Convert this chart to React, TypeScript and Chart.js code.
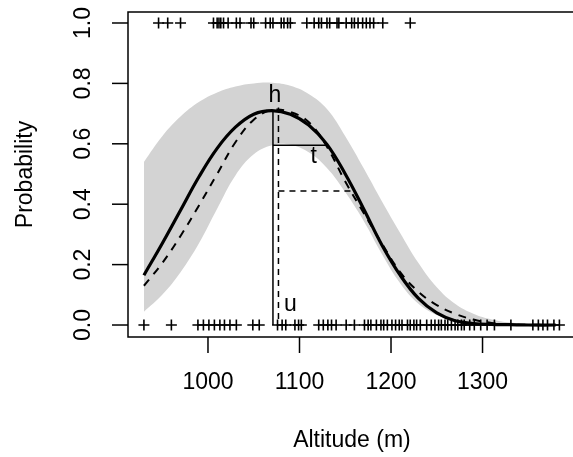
import React, { useEffect, useRef } from "react";
import { Chart, registerables } from "chart.js";

Chart.register(...registerables);

// Altitude grid for the curves (m)
const curveAlt = [930, 950, 970, 990, 1010, 1030, 1050, 1070, 1090, 1110, 1130, 1150, 1170, 1190, 1210, 1230, 1250, 1270, 1290, 1310, 1330, 1350, 1380];
// Fitted probability (solid curve)
const fittedP = [0.165, 0.27, 0.38, 0.49, 0.585, 0.655, 0.698, 0.71, 0.698, 0.662, 0.598, 0.5, 0.385, 0.265, 0.165, 0.088, 0.04, 0.014, 0.005, 0.002, 0.001, 0, 0];
// Alternative model (dashed curve)
const dashedP = [0.13, 0.205, 0.295, 0.395, 0.5, 0.605, 0.68, 0.712, 0.705, 0.672, 0.59, 0.475, 0.372, 0.27, 0.175, 0.11, 0.066, 0.037, 0.018, 0.007, 0.002, 0.001, 0];
// Confidence band
const upperP = [0.54, 0.625, 0.69, 0.738, 0.77, 0.79, 0.8, 0.802, 0.792, 0.765, 0.715, 0.625, 0.52, 0.41, 0.305, 0.205, 0.125, 0.07, 0.037, 0.018, 0.008, 0.004, 0.001];
const lowerP = [0.044, 0.1, 0.175, 0.27, 0.385, 0.495, 0.565, 0.595, 0.597, 0.572, 0.52, 0.44, 0.345, 0.235, 0.138, 0.07, 0.033, 0.013, 0.005, 0.001, 0, 0, 0];

// Observations (rug of "+")
const presenceAlt = [946, 956, 970, 1006, 1010, 1012, 1014, 1017, 1022, 1031, 1035, 1047, 1050, 1063, 1068, 1071, 1080, 1083, 1087, 1090, 1108, 1116, 1121, 1124, 1130, 1133, 1141, 1143, 1151, 1157, 1160, 1164, 1169, 1173, 1177, 1181, 1191, 1221];
const absenceAlt = [930, 960, 989, 995, 1001, 1007, 1013, 1018, 1024, 1031, 1049, 1056, 1076, 1081, 1085, 1095, 1099, 1102, 1121, 1126, 1131, 1135, 1140, 1151, 1160, 1171, 1175, 1178, 1184, 1189, 1192, 1196, 1201, 1205, 1209, 1212, 1218, 1221, 1225, 1228, 1232, 1239, 1244, 1248, 1252, 1255, 1259, 1262, 1266, 1270, 1273, 1277, 1280, 1286, 1291, 1298, 1305, 1313, 1331, 1355, 1361, 1366, 1371, 1378, 1384];

// Annotation values
const hAlt = 1071;
const hP = 0.71;
const tAlt = 1130;
const tP = 0.595;
const dashPeakAlt = 1077;
const dashPeakP = 0.72;
const dashEndAlt = 1157;
const dashHalfP = 0.444;
const labelTexts = ["h", "t", "u"];
const labelAlt = [1073, 1115.5, 1090];
const labelP = [0.76, 0.556, 0.066];

const xTicks = [1000, 1100, 1200, 1300];
const yTicks = [0, 0.2, 0.4, 0.6, 0.8, 1.0];
const xTitle = "Altitude (m)";
const yTitle = "Probability";

const FONT = '"Liberation Sans", Arial, Helvetica, sans-serif';

const pts = (xs: number[], ys: number[]) => xs.map((v, i) => ({ x: v, y: ys[i] }));

const axesPlugin = {
  id: "rAxes",
  afterDraw(chart: any) {
    const { ctx, chartArea: a, scales } = chart;
    const x = scales.x;
    const y = scales.y;
    ctx.save();
    ctx.strokeStyle = "#000";
    ctx.fillStyle = "#000";
    ctx.lineWidth = 1.5;
    ctx.setLineDash([]);
    ctx.beginPath();
    ctx.moveTo(chart.width + 5, a.top);
    ctx.lineTo(a.left, a.top);
    ctx.lineTo(a.left, a.bottom);
    ctx.lineTo(chart.width + 5, a.bottom);
    ctx.stroke();

    ctx.font = `23px ${FONT}`;
    ctx.textAlign = "center";
    ctx.textBaseline = "middle";
    xTicks.forEach((v) => {
      const px = x.getPixelForValue(v);
      ctx.beginPath();
      ctx.moveTo(px, a.bottom);
      ctx.lineTo(px, a.bottom + 16);
      ctx.stroke();
      ctx.fillText(String(v), px, a.bottom + 46);
    });
    yTicks.forEach((v) => {
      const py = y.getPixelForValue(v);
      ctx.beginPath();
      ctx.moveTo(a.left - 16, py);
      ctx.lineTo(a.left, py);
      ctx.stroke();
      ctx.save();
      ctx.translate(a.left - 44, py);
      ctx.rotate(-Math.PI / 2);
      ctx.fillText(v.toFixed(1), 0, 0);
      ctx.restore();
    });
    const cx = (a.left + x.getPixelForValue(1402)) / 2;
    ctx.fillText(xTitle, cx, a.bottom + 104);
    ctx.save();
    ctx.translate(a.left - 102, (a.top + a.bottom) / 2);
    ctx.rotate(-Math.PI / 2);
    ctx.fillText(yTitle, 0, 0);
    ctx.restore();

    labelTexts.forEach((s, i) => {
      ctx.fillText(s, x.getPixelForValue(labelAlt[i]), y.getPixelForValue(labelP[i]));
    });
    ctx.restore();
  },
};

export default function App() {
  const ref = useRef<HTMLCanvasElement>(null);
  useEffect(() => {
    document.body.style.margin = "0";
    const rug = {
      showLine: false,
      pointStyle: "cross",
      pointRadius: 5.5,
      pointBorderWidth: 1.6,
      pointBorderColor: "#000",
      pointBackgroundColor: "#000",
      borderColor: "#000",
    };
    const smooth = { pointRadius: 0, tension: 0.4 };
    const chart = new Chart(ref.current!, {
      type: "line",
      data: {
        datasets: [
          { ...rug, data: presenceAlt.map((v) => ({ x: v, y: 1 })) } as any,
          { ...rug, data: absenceAlt.map((v) => ({ x: v, y: 0 })) } as any,
          { data: [{ x: hAlt, y: 0 }, { x: hAlt, y: hP }], borderColor: "#000", borderWidth: 1.5, pointRadius: 0 },
          { data: [{ x: hAlt, y: tP }, { x: tAlt, y: tP }], borderColor: "#000", borderWidth: 1.5, pointRadius: 0 },
          { data: [{ x: dashPeakAlt, y: 0.02 }, { x: dashPeakAlt, y: dashPeakP }], borderColor: "#000", borderWidth: 1.5, borderDash: [6, 5], pointRadius: 0 },
          { data: [{ x: dashPeakAlt, y: dashHalfP }, { x: dashEndAlt, y: dashHalfP }], borderColor: "#000", borderWidth: 1.5, borderDash: [6, 5], pointRadius: 0 },
          { ...smooth, data: pts(curveAlt, fittedP), borderColor: "#000", borderWidth: 3.2 },
          { ...smooth, data: pts(curveAlt, dashedP), borderColor: "#000", borderWidth: 2, borderDash: [8, 7] },
          { ...smooth, data: pts(curveAlt, upperP), borderWidth: 0, borderColor: "rgba(0,0,0,0)", fill: false },
          { ...smooth, data: pts(curveAlt, lowerP), borderWidth: 0, borderColor: "rgba(0,0,0,0)", fill: "-1", backgroundColor: "#d3d3d3" },
        ],
      },
      options: {
        animation: false,
        responsive: false,
        events: [],
        layout: { padding: { left: 128, top: 12, right: 0, bottom: 120 } },
        scales: {
          x: { type: "linear", min: 912.6, max: 1391.1, display: false },
          y: { type: "linear", min: -0.0397, max: 1.0364, display: false },
        },
        plugins: {
          legend: { display: false },
          tooltip: { enabled: false },
          filler: { drawTime: "beforeDatasetsDraw" },
        },
      },
      plugins: [axesPlugin],
    });
    return () => chart.destroy();
  }, []);
  return <canvas ref={ref} width={573} height={457} style={{ display: "block" }} />;
}
